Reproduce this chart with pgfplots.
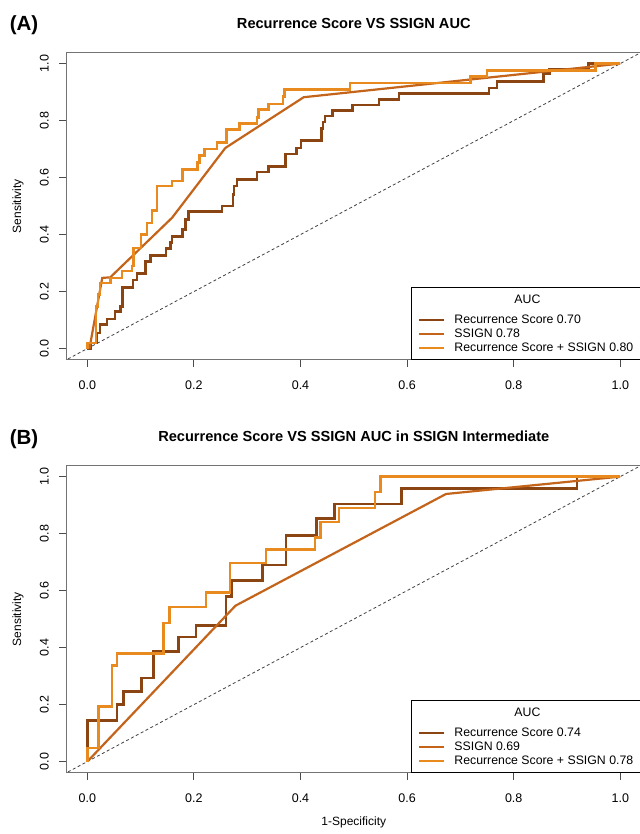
\documentclass[border=0pt]{standalone}
\usepackage{fontspec}
\setmainfont{Liberation Sans}
\usepackage{pgfplots}
\pgfplotsset{compat=1.18}

\definecolor{rscol}{HTML}{8B4513}
\definecolor{sscol}{HTML}{C4641A}
\definecolor{cbcol}{HTML}{E98A1F}

\pgfplotsset{
  rocax/.style={
    width=575.6pt, height=307.8pt, scale only axis,
    xmin=-0.04, xmax=1.04, ymin=-0.04, ymax=1.04,
    xtick={0,0.2,0.4,0.6,0.8,1}, ytick={0,0.2,0.4,0.6,0.8,1},
    tick pos=left, tick align=outside, major tick length=7pt,
    axis line style={line width=1pt, draw=black!55},
    every tick/.style={black!70, line width=0.9pt},
    tick label style={font=\fontsize{12.5}{14}\selectfont,
      /pgf/number format/fixed, /pgf/number format/fixed zerofill,
      /pgf/number format/precision=1, /pgf/number format/assume math mode=true},
    xticklabel style={inner sep=0pt, yshift=-14pt},
    yticklabel style={rotate=90, anchor=south, inner sep=0pt, yshift=10pt},
    ylabel={Sensitivity},
    ylabel style={at={(axis description cs:-0.0834,0.5)}, anchor=center,
      font=\fontsize{12}{14}\selectfont},
    title style={at={(0.5,1)}, anchor=center, yshift=23pt,
      font=\bfseries\fontsize{14.6}{17}\selectfont},
    legend style={at={(1,0)}, anchor=south east, draw=black, line width=0.8pt,
      font=\fontsize{12.3}{14}\selectfont, inner xsep=6pt, inner ysep=4.5pt,
      row sep=0pt, column sep=7pt, cells={anchor=west}},
    legend cell align=left,
    legend image code/.code={\draw[#1, line width=2.6pt] (0pt,0pt) -- (25pt,0pt);},
  },
  diag/.style={dashed, dash pattern=on 3pt off 2.5pt, line width=0.8pt, black!75, forget plot},
}

\begin{document}
\begin{tikzpicture}
\useasboundingbox (0pt,0pt) rectangle (639pt,834pt);

% Panel A
\begin{axis}[rocax, at={(66pt,474pt)}, anchor=south west,
  title={Recurrence Score VS SSIGN AUC}]
\addlegendimage{empty legend}
\addplot[diag] coordinates {(-0.1,-0.1) (1.1,1.1)};
% Recurrence Score
\addplot[const plot, rscol, line width=2.6pt] coordinates {
  (0,0) (0.006,0.02) (0.018,0.055) (0.024,0.084) (0.037,0.104) (0.052,0.131)
  (0.062,0.148) (0.066,0.215) (0.086,0.240) (0.093,0.263) (0.109,0.306)
  (0.118,0.326) (0.148,0.351) (0.156,0.372) (0.159,0.394) (0.179,0.418)
  (0.184,0.453) (0.190,0.480) (0.253,0.500) (0.273,0.540) (0.275,0.570)
  (0.281,0.593) (0.318,0.620) (0.340,0.638) (0.372,0.683) (0.392,0.704)
  (0.401,0.730) (0.439,0.772) (0.442,0.795) (0.446,0.816) (0.460,0.836)
  (0.498,0.854) (0.547,0.874) (0.585,0.895) (0.754,0.914) (0.769,0.937)
  (0.856,0.965) (0.867,0.979) (0.940,1.0) (1,1)};
% SSIGN
\addplot[sscol, line width=2.2pt] coordinates {
  (0.004,0) (0.028,0.248) (0.043,0.250) (0.159,0.459) (0.259,0.704)
  (0.406,0.882) (1,1)};
% Recurrence Score + SSIGN
\addplot[const plot, cbcol, line width=2.6pt] coordinates {
  (0,0) (0,0.02) (0.016,0.148) (0.020,0.19) (0.024,0.23) (0.043,0.248)
  (0.065,0.272) (0.084,0.29) (0.087,0.353) (0.101,0.40) (0.112,0.44)
  (0.121,0.485) (0.131,0.57) (0.159,0.588) (0.179,0.628) (0.207,0.652)
  (0.210,0.677) (0.220,0.70) (0.243,0.724) (0.261,0.768) (0.286,0.79)
  (0.318,0.811) (0.321,0.839) (0.340,0.858) (0.367,0.885) (0.370,0.909)
  (0.493,0.932) (0.719,0.955) (0.750,0.975) (0.953,1.0) (1,1)};
\legend{\raisebox{6pt}[15pt][0pt]{\hspace*{73pt}\makebox[0pt][c]{AUC}},
  Recurrence Score 0.70, SSIGN 0.78, Recurrence Score + SSIGN 0.80}
\end{axis}

% Panel B
\begin{axis}[rocax, at={(66pt,61pt)}, anchor=south west,
  title={Recurrence Score VS SSIGN AUC in SSIGN Intermediate},
  xlabel={1-Specificity},
  xlabel style={at={(axis description cs:0.5,0)}, anchor=center, yshift=-49pt,
    font=\fontsize{12}{14}\selectfont}]
\addlegendimage{empty legend}
\addplot[diag] coordinates {(-0.1,-0.1) (1.1,1.1)};
% Recurrence Score
\addplot[const plot, rscol, line width=2.6pt] coordinates {
  (0,0) (0,0.145) (0.056,0.20) (0.068,0.245) (0.102,0.294) (0.124,0.387)
  (0.171,0.437) (0.204,0.478) (0.260,0.58) (0.271,0.636) (0.329,0.69)
  (0.373,0.794) (0.430,0.853) (0.464,0.904) (0.589,0.958) (0.919,1.0) (1,1)};
% SSIGN
\addplot[sscol, line width=2.2pt] coordinates {
  (0,0) (0.278,0.547) (0.673,0.939) (1,1)};
% Recurrence Score + SSIGN
\addplot[const plot, cbcol, line width=2.6pt] coordinates {
  (0,0) (0,0.048) (0.021,0.194) (0.046,0.337) (0.056,0.379) (0.143,0.487)
  (0.154,0.543) (0.223,0.594) (0.268,0.697) (0.335,0.744) (0.427,0.787)
  (0.437,0.841) (0.472,0.89) (0.540,0.946) (0.550,1.0) (1,1)};
\legend{\raisebox{6pt}[15pt][0pt]{\hspace*{73pt}\makebox[0pt][c]{AUC}},
  Recurrence Score 0.74, SSIGN 0.69, Recurrence Score + SSIGN 0.78}
\end{axis}

\node[font=\bfseries\fontsize{20.5}{24}\selectfont] at (24pt,809pt) {(A)};
\node[font=\bfseries\fontsize{20.5}{24}\selectfont] at (24pt,395pt) {(B)};
\end{tikzpicture}
\end{document}
